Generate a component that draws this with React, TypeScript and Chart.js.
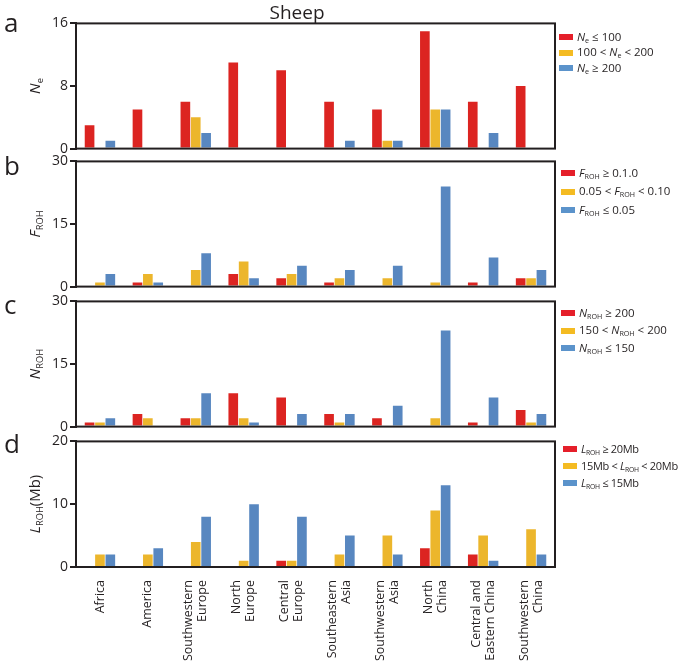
import React, { useEffect, useRef } from "react";
import { Chart, registerables } from "chart.js";

Chart.register(...registerables);

const CATEGORIES: string[][] = [
  ["Africa"],
  ["America"],
  ["Southwestern", "Europe"],
  ["North", "Europe"],
  ["Central", "Europe"],
  ["Southeastern", "Asia"],
  ["Southwestern", "Asia"],
  ["North", "China"],
  ["Central and", "Eastern China"],
  ["Southwestern", "China"],
];

// Panel a: Ne
const NE_LE100 = [3, 5, 6, 11, 10, 6, 5, 15, 6, 8];
const NE_100_200 = [0, 0, 4, 0, 0, 0, 1, 5, 0, 0];
const NE_GE200 = [1, 0, 2, 0, 0, 1, 1, 5, 2, 0];
const NE_TICKS = [0, 8, 16];

// Panel b: FROH
const FROH_GE010 = [0, 1, 0, 3, 2, 1, 0, 0, 1, 2];
const FROH_005_010 = [1, 3, 4, 6, 3, 2, 2, 1, 0, 2];
const FROH_LE005 = [3, 1, 8, 2, 5, 4, 5, 24, 7, 4];
const FROH_TICKS = [0, 15, 30];

// Panel c: NROH
const NROH_GE200 = [1, 3, 2, 8, 7, 3, 2, 0, 1, 4];
const NROH_150_200 = [1, 2, 2, 2, 0, 1, 0, 2, 0, 1];
const NROH_LE150 = [2, 0, 8, 1, 3, 3, 5, 23, 7, 3];
const NROH_TICKS = [0, 15, 30];

// Panel d: LROH
const LROH_GE20 = [0, 0, 0, 0, 1, 0, 0, 3, 2, 0];
const LROH_15_20 = [2, 2, 4, 1, 1, 2, 5, 9, 5, 6];
const LROH_LE15 = [2, 3, 8, 10, 8, 5, 2, 13, 1, 2];
const LROH_TICKS = [0, 10, 20];

const RED = "#dc2421";
const YELLOW = "#ecb62c";
const BLUE = "#5887c0";
const LEG_RED = "#e51f2a";
const LEG_YELLOW = "#f4bb22";
const LEG_BLUE = "#5b93cb";
const DARK = "#231f20";
const FONT = "'Open Sans', 'DejaVu Sans', sans-serif";

const framePlugin = {
  id: "frame",
  afterDatasetsDraw(chart: any) {
    const { ctx, chartArea } = chart;
    ctx.save();
    ctx.strokeStyle = DARK;
    ctx.lineWidth = 2;
    ctx.strokeRect(
      chartArea.left,
      chartArea.top,
      chartArea.right - chartArea.left,
      chartArea.bottom - chartArea.top
    );
    ctx.restore();
  },
};

// Category labels under the bottom panel: rotated, lines centred on the category
const xLabelPlugin = {
  id: "xLabels",
  afterDraw(chart: any) {
    const { ctx, chartArea } = chart;
    const xs = chart.scales.x;
    const lh = 14.2;
    ctx.save();
    ctx.fillStyle = DARK;
    ctx.font = `12.5px ${FONT}`;
    ctx.textAlign = "right";
    ctx.textBaseline = "middle";
    CATEGORIES.forEach((lines, i) => {
      const x = xs.getPixelForValue(i);
      ctx.save();
      ctx.translate(x, chartArea.bottom + 13);
      ctx.rotate(-Math.PI / 2);
      lines.forEach((line, j) => {
        ctx.fillText(line, 0, (j - (lines.length - 1) / 2) * lh);
      });
      ctx.restore();
    });
    ctx.restore();
  },
};

type Panel = {
  series: number[][];
  ticks: number[];
  top: number;
  bottom: boolean;
};

const PANELS: Panel[] = [
  { series: [NE_LE100, NE_100_200, NE_GE200], ticks: NE_TICKS, top: 13, bottom: false },
  { series: [FROH_GE010, FROH_005_010, FROH_LE005], ticks: FROH_TICKS, top: 151, bottom: false },
  { series: [NROH_GE200, NROH_150_200, NROH_LE150], ticks: NROH_TICKS, top: 291, bottom: false },
  { series: [LROH_GE20, LROH_15_20, LROH_LE15], ticks: LROH_TICKS, top: 431, bottom: true },
];

function makeChart(canvas: HTMLCanvasElement, p: Panel) {
  const colors = [RED, YELLOW, BLUE];
  return new Chart(canvas, {
    type: "bar",
    data: {
      labels: CATEGORIES.map((l) => l.join(" ")),
      datasets: p.series.map((d, i) => ({
        data: d,
        backgroundColor: colors[i],
        borderWidth: 0,
        categoryPercentage: 0.65,
        barPercentage: 0.93,
      })),
    },
    options: {
      animation: false,
      responsive: false,
      maintainAspectRatio: false,
      devicePixelRatio: 1,
      layout: { padding: { top: 10, bottom: p.bottom ? 94 : 10, left: 0, right: 130 } },
      plugins: { legend: { display: false }, tooltip: { enabled: false }, title: { display: false } },
      scales: {
        x: {
          display: false,
        },
        y: {
          min: p.ticks[0],
          max: p.ticks[p.ticks.length - 1],
          afterBuildTicks: (s: any) => {
            s.ticks = p.ticks.map((v) => ({ value: v }));
          },
          grid: { drawOnChartArea: false, drawTicks: true, tickLength: 6, color: DARK, lineWidth: 2 },
          border: { display: true, color: DARK, width: 2 },
          ticks: {
            padding: 2,
            color: DARK,
            font: { family: FONT, size: 14 },
          },
          afterFit: (s: any) => {
            s.width = 76;
          },
        },
      },
    },
    plugins: p.bottom ? [framePlugin, xLabelPlugin] : [framePlugin],
  } as any);
}

const txt: React.CSSProperties = {
  position: "absolute",
  fontFamily: FONT,
  color: DARK,
  whiteSpace: "nowrap",
};

const sub: React.CSSProperties = { fontSize: "0.62em", verticalAlign: "-0.35em", fontStyle: "normal" };

function Legend({
  top,
  left,
  items,
  gap,
  size = 11.5,
  spacing = 0,
}: {
  top: number;
  left: number;
  items: { color: string; label: React.ReactNode }[];
  gap: number;
  size?: number;
  spacing?: number;
}) {
  return (
    <div style={{ position: "absolute", left, top }}>
      {items.map((it, i) => (
        <div
          key={i}
          style={{ position: "absolute", left: 0, top: i * gap - 9, height: 18, display: "flex", alignItems: "center", whiteSpace: "nowrap" }}
        >
          <div style={{ width: 14, height: 6, background: it.color, marginRight: 4 }} />
          <span style={{ fontFamily: FONT, fontSize: size, letterSpacing: spacing, color: DARK }}>{it.label}</span>
        </div>
      ))}
    </div>
  );
}

function YTitle({ cx, cy, children }: { cx: number; cy: number; children: React.ReactNode }) {
  return (
    <div
      style={{
        ...txt,
        left: cx,
        top: cy,
        fontSize: 15,
        transform: "translate(-50%, -50%) rotate(-90deg)",
      }}
    >
      {children}
    </div>
  );
}

export default function App() {
  const refs = useRef<(HTMLCanvasElement | null)[]>([]);

  useEffect(() => {
    const charts = PANELS.map((p, i) => makeChart(refs.current[i] as HTMLCanvasElement, p));
    return () => charts.forEach((c) => c.destroy());
  }, []);

  const N = (s: string) => (
    <>
      <i>N</i>
      <span style={sub}>{s}</span>
    </>
  );
  const F = (
    <>
      <i>F</i>
      <span style={sub}>ROH</span>
    </>
  );
  const L = (
    <>
      <i>L</i>
      <span style={sub}>ROH</span>
    </>
  );

  return (
    <div style={{ position: "absolute", left: 0, top: 0, width: 685, height: 661, background: "#fff", overflow: "hidden" }}>
      {PANELS.map((p, i) => (
        <canvas
          key={i}
          ref={(el) => {
            refs.current[i] = el;
          }}
          width={685}
          height={p.bottom ? 230 : 146}
          style={{ position: "absolute", left: 0, top: p.top, width: 685, height: p.bottom ? 230 : 146, display: "block" }}
        />
      ))}

      <div style={{ ...txt, left: 297, top: 1, fontSize: 19, lineHeight: "22px", transform: "translateX(-50%)" }}>Sheep</div>

      <div style={{ ...txt, left: 4, top: 9, fontSize: 26, lineHeight: "26px" }}>a</div>
      <div style={{ ...txt, left: 4, top: 152, fontSize: 26, lineHeight: "26px" }}>b</div>
      <div style={{ ...txt, left: 4, top: 291, fontSize: 26, lineHeight: "26px" }}>c</div>
      <div style={{ ...txt, left: 4, top: 430, fontSize: 26, lineHeight: "26px" }}>d</div>

      <YTitle cx={35} cy={86}>{N("e")}</YTitle>
      <YTitle cx={35} cy={224}>{F}</YTitle>
      <YTitle cx={35} cy={364}>{N("ROH")}</YTitle>
      <YTitle cx={35} cy={504}>
        {L}(Mb)
      </YTitle>

      <Legend
        left={559}
        top={37}
        gap={15.5}
        items={[
          { color: LEG_RED, label: <>{N("e")} ≤ 100</> },
          { color: LEG_YELLOW, label: <>100 &lt; {N("e")} &lt; 200</> },
          { color: LEG_BLUE, label: <>{N("e")} ≥ 200</> },
        ]}
      />
      <Legend
        left={561}
        top={173}
        gap={18.5}
        items={[
          { color: LEG_RED, label: <>{F} ≥ 0.1.0</> },
          { color: LEG_YELLOW, label: <>0.05 &lt; {F} &lt; 0.10</> },
          { color: LEG_BLUE, label: <>{F} ≤ 0.05</> },
        ]}
      />
      <Legend
        left={561}
        top={313}
        gap={17.5}
        items={[
          { color: LEG_RED, label: <>{N("ROH")} ≥ 200</> },
          { color: LEG_YELLOW, label: <>150 &lt; {N("ROH")} &lt; 200</> },
          { color: LEG_BLUE, label: <>{N("ROH")} ≤ 150</> },
        ]}
      />
      <Legend
        left={563}
        top={449}
        gap={17.2}
        size={11}
        spacing={-0.3}
        items={[
          { color: LEG_RED, label: <>{L} ≥ 20Mb</> },
          { color: LEG_YELLOW, label: <>15Mb &lt; {L} &lt; 20Mb</> },
          { color: LEG_BLUE, label: <>{L} ≤ 15Mb</> },
        ]}
      />
    </div>
  );
}
